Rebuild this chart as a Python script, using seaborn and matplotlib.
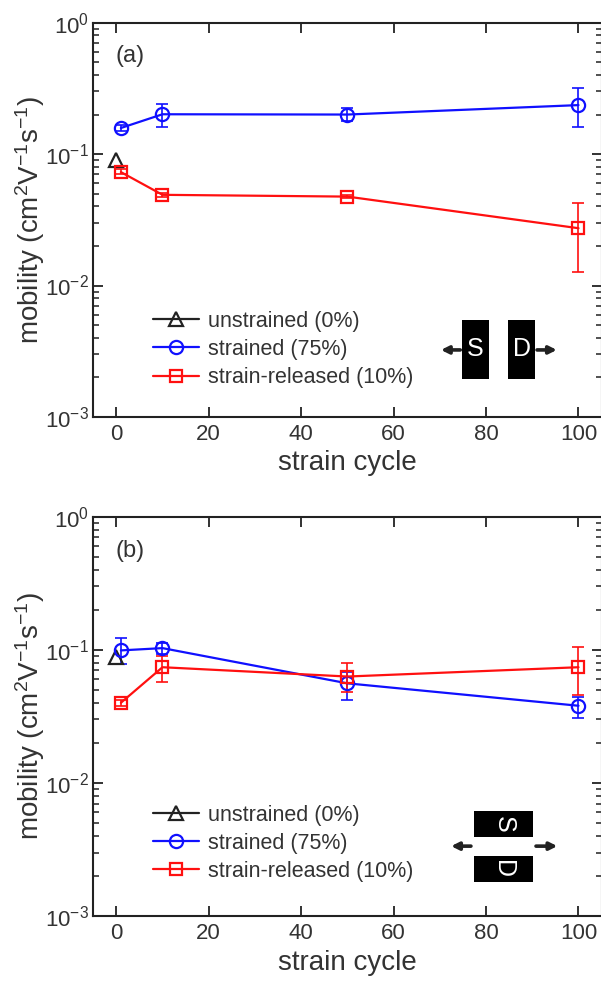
import numpy as np
import pandas as pd
import matplotlib
matplotlib.use("Agg")
import matplotlib.pyplot as plt
import seaborn as sns
from matplotlib.patches import Rectangle

# ---------------- data ----------------
cycles = [1, 10, 50, 100]
unstrained_x = [0]
legend_labels = ["unstrained (0%)", "strained (75%)", "strain-released (10%)"]
x_ticks = [0, 20, 40, 60, 80, 100]

# panel (a): S/D along strain
a_unstrained = [0.090]
a_strained = [0.158, 0.201, 0.200, 0.236]
a_strained_lo = [0.150, 0.161, 0.178, 0.160]
a_strained_hi = [0.167, 0.242, 0.225, 0.319]
a_released = [0.073, 0.049, 0.0475, 0.0273]
a_released_lo = [0.070, 0.047, 0.046, 0.0126]
a_released_hi = [0.077, 0.051, 0.049, 0.0423]

# panel (b): S/D perpendicular to strain
b_unstrained = [0.089]
b_strained = [0.099, 0.103, 0.056, 0.038]
b_strained_lo = [0.078, 0.093, 0.042, 0.031]
b_strained_hi = [0.122, 0.112, 0.068, 0.044]
b_released = [0.040, 0.074, 0.063, 0.074]
b_released_lo = [0.038, 0.057, 0.048, 0.046]
b_released_hi = [0.042, 0.090, 0.080, 0.105]

# ---------------- style ----------------
sns.set_theme(style="ticks")
plt.rcParams["font.family"] = ["Liberation Sans", "DejaVu Sans"]
plt.rcParams["mathtext.fontset"] = "custom"
plt.rcParams["mathtext.rm"] = "Liberation Sans"
plt.rcParams["mathtext.it"] = "Liberation Sans:italic"
plt.rcParams["mathtext.bf"] = "Liberation Sans:bold"

TXT = "#333333"
BLACK = "#222222"
BLUE = "#1010ff"
RED = "#ff1010"

fig = plt.figure(figsize=(6.01, 9.82), dpi=100)
ax_a = fig.add_axes([0.155, 0.5754, 0.846, 0.4015])
ax_b = fig.add_axes([0.155, 0.0672, 0.846, 0.4066])


def draw_panel(ax, unstr, s, s_lo, s_hi, r, r_lo, r_hi, tag, leg_y):
    series = [
        (unstrained_x, unstr, None, None, BLACK, "^", 9.5, legend_labels[0]),
        (cycles, s, s_lo, s_hi, BLUE, "o", 9.5, legend_labels[1]),
        (cycles, r, r_lo, r_hi, RED, "s", 8.0, legend_labels[2]),
    ]
    for x, y, lo, hi, col, mk, ms, lab in series:
        df = pd.DataFrame({"cycle": x, "mobility": y})
        sns.lineplot(data=df, x="cycle", y="mobility", ax=ax, color=col,
                     marker=mk, markersize=ms, markerfacecolor="none",
                     markeredgecolor=col, markeredgewidth=1.6,
                     linewidth=1.6, label=lab, zorder=3)
        if lo is not None:
            yv = np.array(y)
            yerr = np.vstack([yv - np.array(lo), np.array(hi) - yv])
            ax.errorbar(x, yv, yerr=yerr, fmt="none", ecolor=col,
                        elinewidth=1.2, capsize=4, capthick=1.2, zorder=2)

    ax.set_yscale("log")
    ax.set_ylim(1e-3, 1)
    ax.set_xlim(-5, 105)
    ax.set_xticks(x_ticks)
    ax.tick_params(which="both", direction="in", top=True, right=True,
                   colors=BLACK, labelcolor=TXT, labelsize=16)
    ax.tick_params(which="major", length=7, width=1.3, pad=3)
    ax.tick_params(axis="x", which="major", pad=5)
    ax.tick_params(which="minor", length=4, width=1.1)
    ax.tick_params(axis="x", which="minor", bottom=False, top=False)
    for sp in ax.spines.values():
        sp.set_color(BLACK)
        sp.set_linewidth(1.5)
    ax.set_xlabel("strain cycle", fontsize=20, color=TXT, labelpad=4)
    ax.set_ylabel("mobility (cm$^{2}$V$^{-1}$s$^{-1}$)", fontsize=20,
                  color=TXT, labelpad=-1.5)
    ax.text(0.043, 0.915, tag, transform=ax.transAxes, fontsize=17,
            color=TXT, va="center", ha="left")
    leg = ax.legend(loc="upper left", bbox_to_anchor=(0.118, leg_y),
                    frameon=False, fontsize=15.5, handlelength=2.15,
                    handletextpad=0.4, labelspacing=0.33, borderpad=0,
                    borderaxespad=0)
    for t in leg.get_texts():
        t.set_color(TXT)


draw_panel(ax_a, a_unstrained, a_strained, a_strained_lo, a_strained_hi,
           a_released, a_released_lo, a_released_hi, "(a)", 0.269)
draw_panel(ax_b, b_unstrained, b_strained, b_strained_lo, b_strained_hi,
           b_released, b_released_lo, b_released_hi, "(b)", 0.279)

arrow_kw = dict(arrowstyle="-|>", lw=2.6, mutation_scale=11, color=BLACK,
                shrinkA=0, shrinkB=0)

# schematic (a): S and D side by side, pulled horizontally
for x0, letter in [(0.7257, "S"), (0.816, "D")]:
    ax_a.add_patch(Rectangle((x0, 0.0964), 0.053, 0.150, transform=ax_a.transAxes,
                             facecolor="black", edgecolor="none", zorder=4))
    ax_a.text(x0 + 0.0265, 0.0964 + 0.075, letter, transform=ax_a.transAxes,
              color="white", fontsize=18, ha="center", va="center", zorder=5)
ax_a.annotate("", xy=(0.684, 0.170), xytext=(0.722, 0.170),
              xycoords="axes fraction", arrowprops=arrow_kw)
ax_a.annotate("", xy=(0.912, 0.170), xytext=(0.873, 0.170),
              xycoords="axes fraction", arrowprops=arrow_kw)

# schematic (b): S above D, pulled horizontally
for y0, letter in [(0.198, "S"), (0.085, "D")]:
    ax_b.add_patch(Rectangle((0.749, y0), 0.116, 0.065, transform=ax_b.transAxes,
                             facecolor="black", edgecolor="none", zorder=4))
    ax_b.text(0.749 + 0.058, y0 + 0.0325, letter, transform=ax_b.transAxes,
              color="white", fontsize=18, ha="center", va="center",
              rotation=-90, zorder=5)
ax_b.annotate("", xy=(0.704, 0.175), xytext=(0.743, 0.175),
              xycoords="axes fraction", arrowprops=arrow_kw)
ax_b.annotate("", xy=(0.913, 0.175), xytext=(0.871, 0.175),
              xycoords="axes fraction", arrowprops=arrow_kw)

fig.savefig("out.png", dpi=100)
